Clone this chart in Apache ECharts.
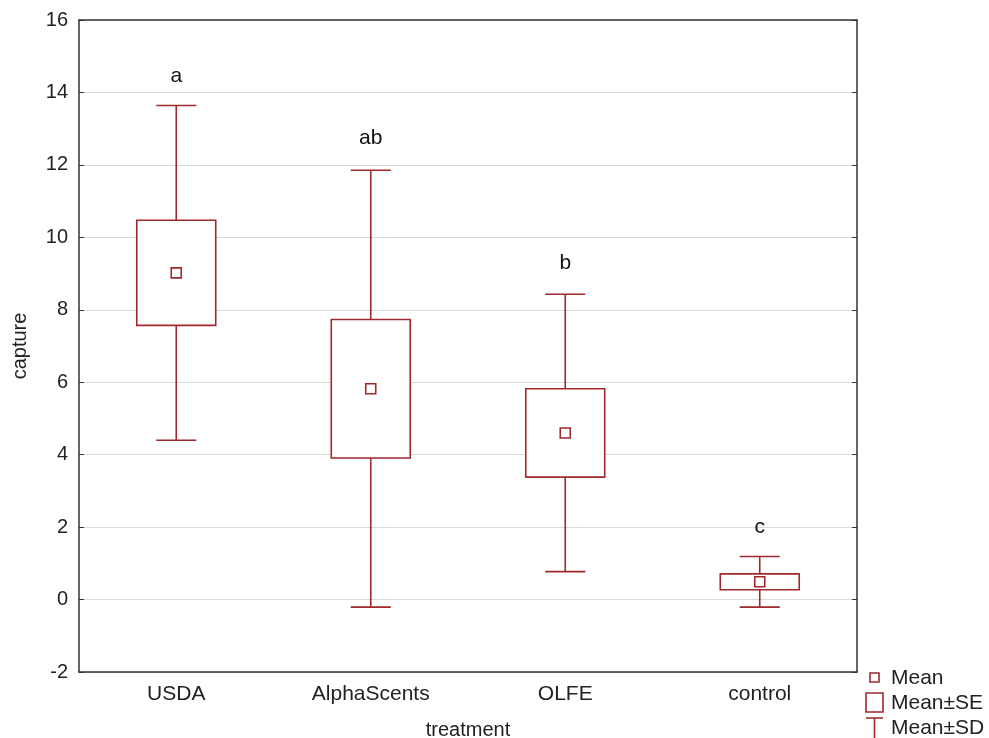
<!DOCTYPE html>
<html>
<head>
<meta charset="utf-8">
<script src="https://cdn.jsdelivr.net/npm/echarts@6/dist/echarts.min.js"></script>
<style>html,body{margin:0;padding:0;background:#fff}#c{width:989px;height:738px}</style>
</head>
<body>
<div id="c"></div>
<script>
var categories = ['USDA', 'AlphaScents', 'OLFE', 'control'];
var means = [9.02, 5.82, 4.60, 0.49];
var se = [1.45, 1.91, 1.22, 0.22];
var sd = [4.62, 6.03, 3.83, 0.70];
var letters = ['a', 'ab', 'b', 'c'];
var letterY = [14.45, 12.75, 9.28, 2.0];
var yTicks = [-2, 0, 2, 4, 6, 8, 10, 12, 14, 16];

var RED = '#a0292e';
var FONT = 'Liberation Sans, Arial, sans-serif';

var boxData = categories.map(function (c, i) {
  return [i, means[i], se[i], sd[i]];
});
var letterData = categories.map(function (c, i) {
  return [i, letterY[i], letters[i]];
});

var chart = echarts.init(document.getElementById('c'));
chart.setOption({
  animation: false,
  backgroundColor: '#fff',
  grid: { left: 79, right: 132, top: 20, bottom: 66, containLabel: false, outerBoundsMode: 'none' },
  xAxis: [{
    type: 'category',
    data: categories,
    name: 'treatment',
    nameLocation: 'middle',
    nameGap: 48,
    nameTextStyle: { fontFamily: FONT, fontSize: 20, color: '#222' },
    axisLine: { onZero: false, lineStyle: { color: '#333', width: 1.5 } },
    axisTick: { inside: true, alignWithLabel: true, length: 5, lineStyle: { color: '#333' } },
    axisLabel: { fontFamily: FONT, fontSize: 21, color: '#222', margin: 12 },
    splitLine: { show: false }
  }, {
    type: 'category',
    data: categories,
    position: 'top',
    axisLine: { onZero: false, lineStyle: { color: '#333', width: 1.5 } },
    axisTick: { inside: true, alignWithLabel: true, length: 5, lineStyle: { color: '#333' } },
    axisLabel: { show: false }
  }],
  yAxis: [{
    type: 'value',
    min: -2, max: 16, interval: 2,
    name: 'capture',
    nameLocation: 'middle',
    nameGap: 49,
    nameTextStyle: { fontFamily: FONT, fontSize: 20, color: '#222' },
    axisLine: { show: true, onZero: false, lineStyle: { color: '#333', width: 1.5 } },
    axisTick: { show: true, inside: true, length: 5, lineStyle: { color: '#333' } },
    axisLabel: {
      fontFamily: FONT, fontSize: 20, color: '#222', margin: 11,
      formatter: function (v) { return yTicks.indexOf(v) >= 0 ? String(v) : ''; }
    },
    splitLine: { show: true, lineStyle: { color: '#d9d9d9', width: 1.2 } }
  }, {
    type: 'value',
    min: -2, max: 16, interval: 2,
    position: 'right',
    axisLine: { show: true, onZero: false, lineStyle: { color: '#333', width: 1.5 } },
    axisTick: { show: true, inside: true, length: 5, lineStyle: { color: '#333' } },
    axisLabel: { show: false },
    splitLine: { show: false }
  }],
  series: [{
    type: 'custom',
    name: 'boxes',
    data: boxData,
    encode: { x: 0, y: 1 },
    renderItem: function (params, api) {
      var x = api.value(0), m = api.value(1), s = api.value(2), d = api.value(3);
      var bw = api.size([1, 0])[0];
      var halfBox = bw * 0.203;
      var halfCap = bw * 0.103;
      var pMean = api.coord([x, m]);
      var pSeHi = api.coord([x, m + s]);
      var pSeLo = api.coord([x, m - s]);
      var pSdHi = api.coord([x, m + d]);
      var pSdLo = api.coord([x, m - d]);
      var cx = pMean[0];
      var ls = { stroke: RED, lineWidth: 1.6, fill: null };
      var ms = 5;
      return {
        type: 'group',
        children: [
          { type: 'line', shape: { x1: cx, y1: pSdHi[1], x2: cx, y2: pSeHi[1] }, style: ls },
          { type: 'line', shape: { x1: cx, y1: pSeLo[1], x2: cx, y2: pSdLo[1] }, style: ls },
          { type: 'line', shape: { x1: cx - halfCap, y1: pSdHi[1], x2: cx + halfCap, y2: pSdHi[1] }, style: ls },
          { type: 'line', shape: { x1: cx - halfCap, y1: pSdLo[1], x2: cx + halfCap, y2: pSdLo[1] }, style: ls },
          { type: 'rect', shape: { x: cx - halfBox, y: pSeHi[1], width: halfBox * 2, height: pSeLo[1] - pSeHi[1] },
            style: { stroke: RED, lineWidth: 1.6, fill: '#fff' } },
          { type: 'rect', shape: { x: cx - ms, y: pMean[1] - ms, width: ms * 2, height: ms * 2 },
            style: { stroke: RED, lineWidth: 1.6, fill: '#fff' } }
        ]
      };
    },
    z: 3
  }, {
    type: 'custom',
    name: 'letters',
    data: letterData,
    encode: { x: 0, y: 1 },
    renderItem: function (params, api) {
      var p = api.coord([api.value(0), api.value(1)]);
      return {
        type: 'text',
        style: {
          x: p[0], y: p[1], text: letters[params.dataIndex],
          fontFamily: FONT, fontSize: 21, fill: '#111',
          align: 'center', verticalAlign: 'middle'
        }
      };
    },
    z: 4
  }],
  graphic: [
    { type: 'rect', shape: { x: 870, y: 673, width: 9, height: 9 }, style: { stroke: RED, lineWidth: 1.6, fill: '#fff' } },
    { type: 'text', style: { x: 891, y: 678, text: 'Mean', fontFamily: FONT, fontSize: 21, fill: '#222', verticalAlign: 'middle' } },
    { type: 'rect', shape: { x: 866, y: 693, width: 17, height: 19 }, style: { stroke: RED, lineWidth: 1.6, fill: '#fff' } },
    { type: 'text', style: { x: 891, y: 703, text: 'Mean±SE', fontFamily: FONT, fontSize: 21, fill: '#222', verticalAlign: 'middle' } },
    { type: 'line', shape: { x1: 866, y1: 718, x2: 883, y2: 718 }, style: { stroke: RED, lineWidth: 1.6 } },
    { type: 'line', shape: { x1: 874.5, y1: 718, x2: 874.5, y2: 740 }, style: { stroke: RED, lineWidth: 1.6 } },
    { type: 'text', style: { x: 891, y: 728, text: 'Mean±SD', fontFamily: FONT, fontSize: 21, fill: '#222', verticalAlign: 'middle' } }
  ]
});
</script>
</body>
</html>
